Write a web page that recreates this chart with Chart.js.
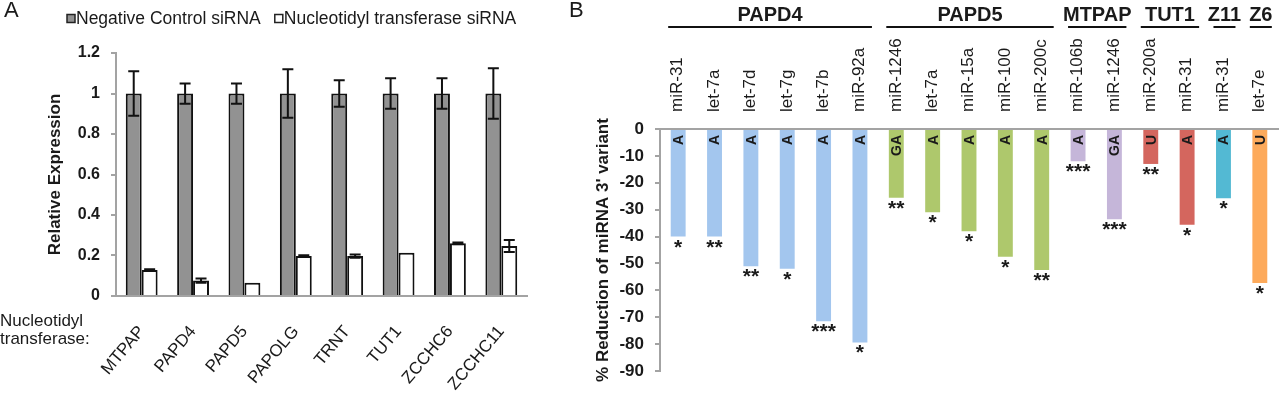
<!DOCTYPE html>
<html>
<head>
<meta charset="utf-8">
<script src="https://cdn.jsdelivr.net/npm/chart.js@4.4.1/dist/chart.umd.min.js"></script>
<style>
  html, body { margin: 0; padding: 0; background: #fff; width: 1280px; height: 393px; overflow: hidden; }
  #wrapA { position: absolute; left: 0; top: 0; width: 560px; height: 393px; }
  #wrapB { position: absolute; left: 560px; top: 0; width: 720px; height: 393px; }
  .txt { position: absolute; font-family: "Liberation Sans", Arial, sans-serif; color: #1a1a1a; white-space: nowrap; }
  .panel { font-size: 22px; line-height: 22px; }
  #ntLabel { left: 0; top: 312px; font-size: 17px; line-height: 18px; }
</style>
</head>
<body>
<div id="wrapA"><canvas id="chartA" width="560" height="393"></canvas></div>
<div id="wrapB"><canvas id="chartB" width="720" height="393"></canvas></div>
<div class="txt panel" style="left:4px; top:-1px;">A</div>
<div class="txt panel" style="left:569px; top:-1px;">B</div>
<div class="txt" id="ntLabel">Nucleotidyl<br>transferase:</div>

<script>
// ── Panel A: knockdown efficiency of each nucleotidyl transferase ──────────
const transferases  = ["MTPAP", "PAPD4", "PAPD5", "PAPOLG", "TRNT", "TUT1", "ZCCHC6", "ZCCHC11"];
const controlExpr   = [1.0, 1.0, 1.0, 1.0, 1.0, 1.0, 1.0, 1.0];
const controlErr    = [0.11, 0.05, 0.05, 0.12, 0.065, 0.075, 0.075, 0.125];
const knockdownExpr = [0.128, 0.076, 0.066, 0.198, 0.197, 0.214, 0.26, 0.247];
const knockdownErr  = [0.004, 0.01, 0, 0.003, 0.008, 0, 0.004, 0.03];
const exprTicks     = [0, 0.2, 0.4, 0.6, 0.8, 1, 1.2];

// ── Panel B: reduction of 3' variants per miRNA ────────────────────────────
const miRNAs    = ["miR-31", "let-7a", "let-7d", "let-7g", "let-7b", "miR-92a",
                   "miR-1246", "let-7a", "miR-15a", "miR-100", "miR-200c",
                   "miR-106b", "miR-1246", "miR-200a", "miR-31", "miR-31", "let-7e"];
const enzymes   = ["PAPD4", "PAPD4", "PAPD4", "PAPD4", "PAPD4", "PAPD4",
                   "PAPD5", "PAPD5", "PAPD5", "PAPD5", "PAPD5",
                   "MTPAP", "MTPAP", "TUT1", "TUT1", "Z11", "Z6"];
const reduction = [-40, -40, -51, -52, -71.5, -79.4,
                   -25.6, -31, -38, -47.5, -52.4,
                   -12, -33.6, -13, -35.6, -25.8, -57.3];
const tailNts   = ["A", "A", "A", "A", "A", "A", "GA", "A", "A", "A", "A", "A", "GA", "U", "A", "A", "U"];
const stars     = ["*", "**", "**", "*", "***", "*", "**", "*", "*", "*", "**", "***", "***", "**", "*", "*", "*"];
const reductionTicks = [0, -10, -20, -30, -40, -50, -60, -70, -80, -90];

const FONT   = '"Liberation Sans", Arial, sans-serif';
const INK    = "#1a1a1a";
const AXIS   = "#a3a3a3";
const enzymeColors = { PAPD4: "#a3c6ee", PAPD5: "#aec86c", MTPAP: "#c5b6d9", TUT1: "#d4665e", Z11: "#53b9d3", Z6: "#fdaa5b" };

Chart.defaults.font.family = FONT;
Chart.defaults.color = INK;

// error bars drawn from each dataset's `errors` list
const errorBars = {
  id: "errorBars",
  afterDatasetsDraw(chart) {
    const { ctx, scales: { y } } = chart;
    ctx.save();
    ctx.strokeStyle = "#111";
    ctx.lineWidth = 2;
    chart.data.datasets.forEach((ds, di) => {
      chart.getDatasetMeta(di).data.forEach((bar, i) => {
        const err = ds.errors[i];
        if (!err) return;
        const top = y.getPixelForValue(ds.data[i] + err);
        const bot = y.getPixelForValue(ds.data[i] - err);
        const cap = 5.5;
        ctx.beginPath();
        ctx.moveTo(bar.x, top);       ctx.lineTo(bar.x, bot);
        ctx.moveTo(bar.x - cap, top); ctx.lineTo(bar.x + cap, top);
        ctx.moveTo(bar.x - cap, bot); ctx.lineTo(bar.x + cap, bot);
        ctx.stroke();
      });
    });
    ctx.restore();
  },
};

// square-box legend above panel A
const legendA = {
  id: "legendA",
  afterDraw(chart) {
    const ctx = chart.ctx;
    ctx.save();
    ctx.font = "17.5px " + FONT;
    ctx.textBaseline = "middle";
    let x = 67;
    chart.data.datasets.forEach((ds) => {
      ctx.fillStyle = ds.backgroundColor;
      ctx.strokeStyle = "#222";
      ctx.lineWidth = 1.5;
      ctx.fillRect(x, 14.5, 8, 8);
      ctx.strokeRect(x, 14.5, 8, 8);
      ctx.fillStyle = INK;
      ctx.fillText(ds.label, x + 9, 19);
      x += 9 + ctx.measureText(ds.label).width + 14;
    });
    ctx.restore();
  },
};

new Chart(document.getElementById("chartA"), {
  type: "bar",
  data: {
    labels: transferases,
    datasets: [
      { label: "Negative Control siRNA", data: controlExpr, errors: controlErr,
        backgroundColor: "#929292", borderColor: "#111", borderWidth: 2 },
      { label: "Nucleotidyl transferase siRNA", data: knockdownExpr, errors: knockdownErr,
        backgroundColor: "#ffffff", borderColor: "#111", borderWidth: 2 },
    ],
  },
  options: {
    responsive: false,
    animation: false,
    layout: { padding: { top: 53, right: 33, bottom: 0, left: 0 } },
    datasets: { bar: { categoryPercentage: 0.62, barPercentage: 1.0 } },
    plugins: { legend: { display: false }, tooltip: { enabled: false } },
    scales: {
      x: {
        grid: { display: false, drawTicks: false },
        border: { color: AXIS, width: 2 },
        ticks: { minRotation: 50, maxRotation: 50, autoSkip: false, padding: 26,
                 font: { size: 17 }, color: INK },
        afterFit: (s) => { s.height = 97; },
      },
      y: {
        min: 0, max: 1.2,
        afterBuildTicks: (s) => { s.ticks = exprTicks.map((v) => ({ value: v })); },
        afterFit: (s) => { s.width = 116; },
        grid: { drawOnChartArea: false, tickLength: 5, color: AXIS, lineWidth: 2 },
        border: { color: AXIS, width: 2 },
        ticks: { padding: 11, font: { size: 16, weight: "bold" }, color: INK,
                 callback: (v) => String(v) },
        title: { display: true, text: "Relative Expression", color: INK,
                 font: { size: 17, weight: "bold" }, padding: { top: 45, bottom: 0 } },
      },
    },
  },
  plugins: [errorBars, legendA],
});

// tail nucleotide inside each bar and significance stars below it
const barNotes = {
  id: "barNotes",
  afterDatasetsDraw(chart) {
    const ctx = chart.ctx;
    ctx.save();
    ctx.fillStyle = INK;
    chart.getDatasetMeta(0).data.forEach((bar, i) => {
      ctx.save();
      ctx.translate(bar.x + 1, bar.base + 5);
      ctx.rotate(-Math.PI / 2);
      ctx.font = "bold 14px " + FONT;
      ctx.textAlign = "right";
      ctx.textBaseline = "middle";
      ctx.fillText(tailNts[i], 0, 0);
      ctx.restore();

      ctx.font = "bold 21px " + FONT;
      ctx.textAlign = "center";
      ctx.textBaseline = "alphabetic";
      ctx.fillText(stars[i], bar.x, bar.y + 17);
    });
    ctx.restore();
  },
};

// enzyme names with underlines over their miRNA groups
const enzymeHeaders = {
  id: "enzymeHeaders",
  afterDraw(chart) {
    const { ctx, scales: { x } } = chart;
    ctx.save();
    ctx.strokeStyle = "#111";
    ctx.lineWidth = 2;
    ctx.fillStyle = INK;
    ctx.font = "bold 20px " + FONT;
    ctx.textAlign = "center";
    ctx.textBaseline = "alphabetic";
    let start = 0;
    for (let i = 1; i <= enzymes.length; i++) {
      if (i < enzymes.length && enzymes[i] === enzymes[start]) continue;
      const x0 = x.getPixelForValue(start) - 10;
      const x1 = x.getPixelForValue(i - 1) + 12;
      ctx.beginPath();
      ctx.moveTo(x0, 27);
      ctx.lineTo(x1, 27);
      ctx.stroke();
      ctx.fillText(enzymes[start], (x0 + x1) / 2, 21);
      start = i;
    }
    ctx.restore();
  },
};

new Chart(document.getElementById("chartB"), {
  type: "bar",
  data: {
    labels: miRNAs,
    datasets: [
      { label: "% reduction", data: reduction,
        backgroundColor: enzymes.map((e) => enzymeColors[e]), borderWidth: 0 },
    ],
  },
  options: {
    responsive: false,
    animation: false,
    layout: { padding: { top: 0, right: 2, bottom: 22, left: 0 } },
    datasets: { bar: { categoryPercentage: 1.0, barPercentage: 0.41 } },
    plugins: { legend: { display: false }, tooltip: { enabled: false } },
    scales: {
      x: {
        position: "top",
        grid: { display: false, drawTicks: false },
        border: { color: AXIS, width: 2 },
        ticks: { minRotation: 90, maxRotation: 90, autoSkip: false, padding: 17, labelOffset: 20,
                 font: { size: 17 }, color: INK },
        afterFit: (s) => { s.height = 129; },
      },
      y: {
        min: -90, max: 0,
        afterBuildTicks: (s) => { s.ticks = reductionTicks.map((v) => ({ value: v })); },
        afterFit: (s) => { s.width = 100; },
        grid: { drawOnChartArea: false, tickLength: 5, color: AXIS, lineWidth: 2 },
        border: { color: AXIS, width: 2 },
        ticks: { padding: 11, font: { size: 17, weight: "bold" }, color: INK },
        title: { display: true, text: "% Reduction of miRNA 3' variant", color: INK,
                 font: { size: 17, weight: "bold" }, padding: { top: 33, bottom: 0 } },
      },
    },
  },
  plugins: [barNotes, enzymeHeaders],
});
</script>
</body>
</html>
